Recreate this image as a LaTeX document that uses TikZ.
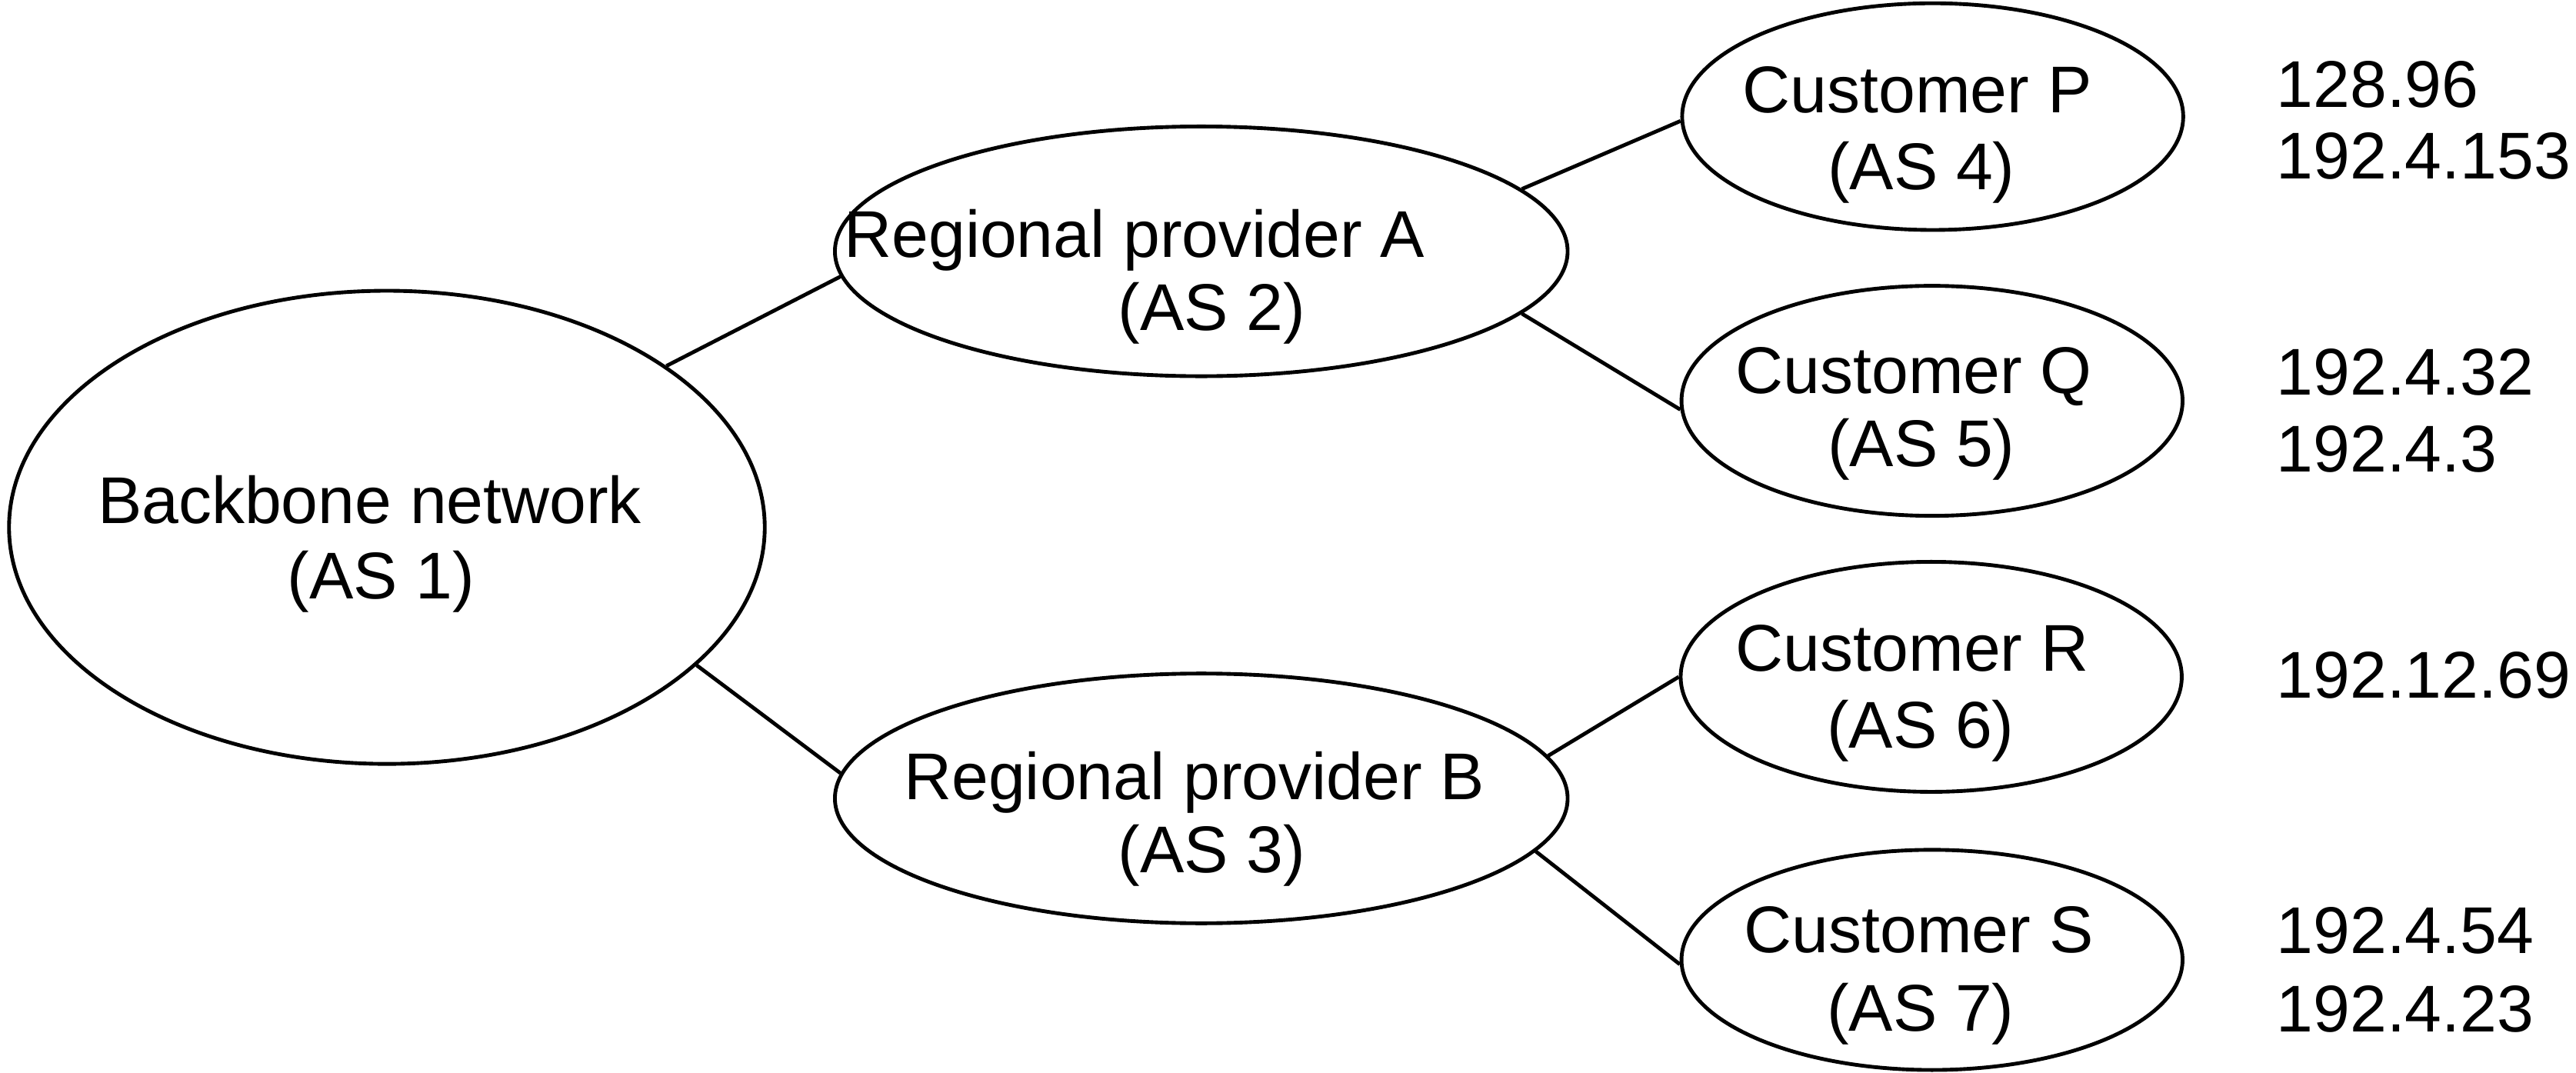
\documentclass[tikz,border=0pt]{standalone}
\usepackage{fontspec}
\setmainfont{Liberation Sans}
\usetikzlibrary{shapes.geometric}

\begin{document}
\begin{tikzpicture}[scale=1.0,
    asnode/.style={draw, ellipse, line width=0.65pt, inner sep=0pt},
    txt/.style={anchor=base, inner sep=0pt, font=\fontsize{11.45}{13}\selectfont},
    addr/.style={anchor=base west, inner sep=0pt, font=\fontsize{11.45}{13}\selectfont},
    link/.style={line width=0.65pt}]

\useasboundingbox (0,0) rectangle (15.68,6.53);

% autonomous systems
\node[asnode, minimum width=4.60cm, minimum height=2.88cm] (bb) at (2.355,3.32) {};
\node[asnode, minimum width=4.46cm, minimum height=1.52cm] (regA) at (7.312,5.00) {};
\node[asnode, minimum width=4.46cm, minimum height=1.52cm] (regB) at (7.312,1.67) {};
\node[asnode, minimum width=3.05cm, minimum height=1.38cm] (custP) at (11.764,5.82) {};
\node[asnode, minimum width=3.05cm, minimum height=1.40cm] (custQ) at (11.76,4.09) {};
\node[asnode, minimum width=3.05cm, minimum height=1.40cm] (custR) at (11.755,2.41) {};
\node[asnode, minimum width=3.05cm, minimum height=1.34cm] (custS) at (11.76,0.687) {};

% names
\node[txt] (bbA) at (2.25,3.345) {Backbone network};
\node[txt] (bbB) at (2.32,2.884) {(AS 1)};
\node[txt] (regAa) at (6.905,4.964) {Regional provider A};
\node[txt] (regAb) at (7.375,4.521) {(AS 2)};
\node[txt] (regBa) at (7.27,1.662) {Regional provider B};
\node[txt] (regBb) at (7.375,1.22) {(AS 3)};
\node[txt] (custPa) at (11.67,5.846) {Customer P};
\node[txt] (custPb) at (11.695,5.375) {(AS 4)};
\node[txt] (custQa) at (11.65,4.133) {Customer Q};
\node[txt] (custQb) at (11.695,3.692) {(AS 5)};
\node[txt] (custRa) at (11.64,2.443) {Customer R};
\node[txt] (custRb) at (11.69,1.977) {(AS 6)};
\node[txt] (custSa) at (11.68,0.731) {Customer S};
\node[txt] (custSb) at (11.69,0.254) {(AS 7)};

% prefixes
\node[addr] (preP1) at (13.85,5.875) {128.96};
\node[addr] (preP2) at (13.85,5.441) {192.4.153};
\node[addr] (preQ1) at (13.85,4.127) {192.4.32};
\node[addr] (preQ2) at (13.85,3.656) {192.4.3};
\node[addr] (preR1) at (13.85,2.28) {192.12.69};
\node[addr] (preS1) at (13.85,0.725) {192.4.54};
\node[addr] (preS2) at (13.85,0.248) {192.4.23};

% links
\draw[link] (bb.30.8) -- (regA.184.9);
\draw[link] (bb.-24.2) -- (regB.176.1);
\draw[link] (regA.11) -- (custP.181);
\draw[link] (regA.-11.9) -- (custQ.182);
\draw[link] (regB.7) -- (custR.180);
\draw[link] (regB.-9.3) -- (custS.181);

\end{tikzpicture}
\end{document}
